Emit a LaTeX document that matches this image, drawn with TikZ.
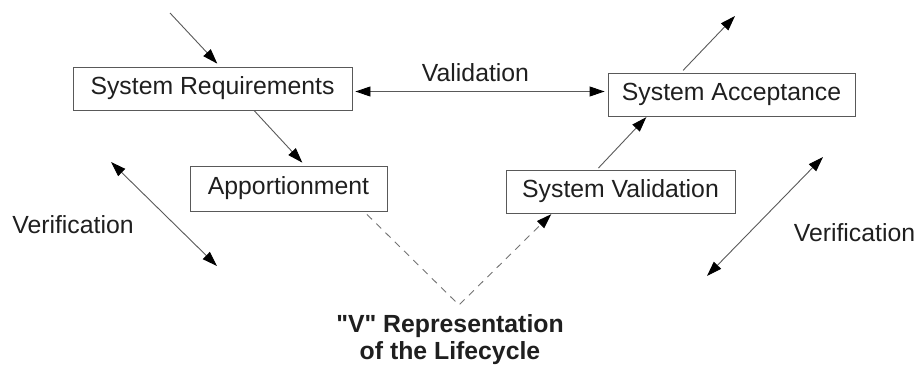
\documentclass[tikz,border=0pt]{standalone}
\usepackage{fontspec}
\setmainfont{Liberation Sans}
\usetikzlibrary{arrows.meta}
\begin{document}
\begin{tikzpicture}[x=1pt,y=1pt,
  every node/.style={font=\fontsize{24.8}{27}\selectfont, text=black!88},
  box/.style={draw=black!65, line width=0.9pt, rectangle, inner sep=0pt},
  tip/.tip={Triangle[length=15pt,width=10pt,color=black]},
  conn/.style={draw=black!65, line width=0.9pt, -tip},
  bconn/.style={draw=black!65, line width=0.9pt, tip-tip},
  dconn/.style={draw=black!55, line width=0.9pt, dash pattern=on 7pt off 6pt, -tip},
  lbl/.style={inner sep=0pt}]
\useasboundingbox (0,0) rectangle (919,-367);
% boxes
\node[box, minimum width=279pt, minimum height=43pt] (SR) at (212.5,-88.5) {System Requirements};
\node[box, minimum width=247pt, minimum height=43pt] (SA) at (731.5,-94.5) {System Acceptance};
\node[box, minimum width=197pt, minimum height=45pt] (AP) at (288.5,-188.5) {Apportionment};
\node[box, minimum width=229pt, minimum height=43pt] (SV) at (620.5,-191.5) {System Validation};
% labels
\node[lbl] (val) at (475.5,-73) {Validation};
\node[lbl] (verL) at (73,-225) {Verification};
\node[lbl] (verR) at (854.5,-233) {Verification};
\node[lbl, align=center, font=\fontsize{24.8}{27}\selectfont\bfseries] (title) at (450,-340) {\textquotedbl V\textquotedbl{} Representation\\of the Lifecycle};
% free ends
\coordinate (inSR) at (170,-13);
\coordinate (outSA) at (735,-16);
\coordinate (vtx) at (459,-305);
\coordinate (vl1) at (111,-162);
\coordinate (vl2) at (217,-266);
\coordinate (vr1) at (707,-276);
\coordinate (vr2) at (823,-157);
% connectors
\draw[conn, shorten >=4pt] (inSR) -- ([xshift=7.5pt]SR.north);
\draw[conn, shorten >=4pt] ([xshift=41.5pt]SR.south) -- ([xshift=16.5pt]AP.north);
\draw[bconn, shorten <=3pt, shorten >=3pt] ([yshift=-3pt]SR.east) -- ([yshift=3pt]SA.west);
\draw[conn, shorten <=3pt] ([xshift=-50.5pt]SA.north) -- (outSA);
\draw[conn, shorten <=2pt, shorten >=1pt] ([xshift=-23.5pt]SV.north) -- ([xshift=-84.5pt]SA.south);
\draw[dconn, shorten >=1pt] ([xshift=78.5pt, yshift=-3pt]AP.south) -- (vtx) -- ([xshift=-68.5pt]SV.south);
\draw[bconn] (vl1) -- (vl2);
\draw[bconn] (vr1) -- (vr2);
\end{tikzpicture}
\end{document}
